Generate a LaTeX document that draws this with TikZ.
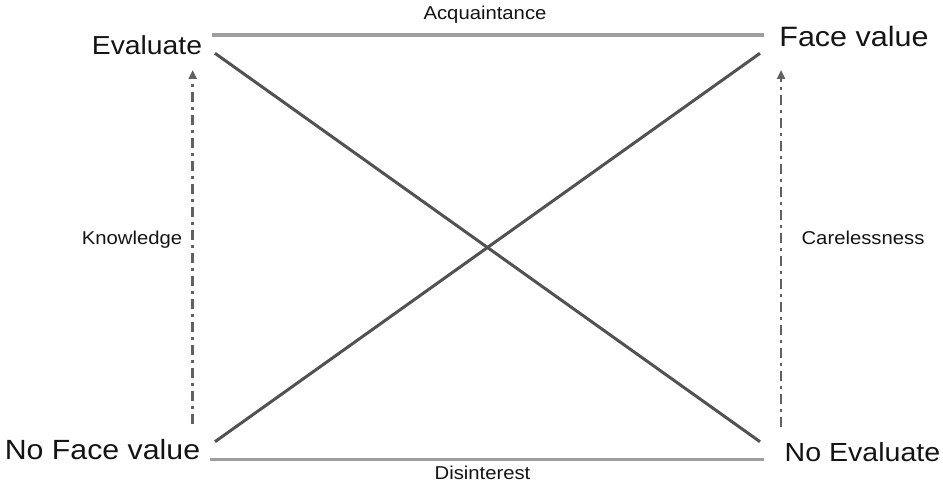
\documentclass[tikz,border=0pt]{standalone}
\usepackage{fontspec}
\setmainfont{Liberation Sans}[FakeStretch=1.09]
\usetikzlibrary{arrows.meta}
\tikzset{
  bigtxt/.style={inner sep=0pt, anchor=base, text=black!92},
  smalltxt/.style={inner sep=0pt, anchor=base, text=black!92, font=\fontsize{18.6}{22}\selectfont},
  hline/.style={draw=black!38, line width=3.6pt},
  cross/.style={draw=black!68, line width=3pt},
  updir/.style={draw=black!62, line width=2.8pt, dash pattern=on 10pt off 5pt on 3pt off 5pt,
    -{Triangle[width=8pt,length=9pt]}},
}
\begin{document}
\begin{tikzpicture}[x=1pt,y=1pt]
\useasboundingbox (0,0) rectangle (943,486);
% labels
\node[bigtxt, font=\fontsize{26}{30}\selectfont] (ev) at (147,431) {Evaluate};
\node[bigtxt, font=\fontsize{28}{32}\selectfont] (fv) at (854,439.5) {Face value};
\node[bigtxt, font=\fontsize{27.8}{32}\selectfont] (nfv) at (102.5,26.7) {No Face value};
\node[bigtxt, font=\fontsize{26.2}{30}\selectfont] (nev) at (862.5,24.3) {No Evaluate};
\node[smalltxt] (acq) at (485,466) {Acquaintance};
\node[smalltxt] (dis) at (482.5,6) {Disinterest};
\node[smalltxt] (kn) at (132,241.7) {Knowledge};
\node[smalltxt] (car) at (863,241) {Carelessness};
% endpoints
\coordinate (tl) at (211.5,451);
\coordinate (tr) at (763.5,451);
\coordinate (bl) at (210,26.5);
\coordinate (br) at (763.5,26.5);
\coordinate (d1s) at (215,432.7);
\coordinate (d1e) at (760,44.3);
\coordinate (d2s) at (215,44.3);
\coordinate (d2e) at (760,432.7);
\coordinate (la) at (192.7,62);
\coordinate (lb) at (192.7,416);
\coordinate (ra) at (781,59);
\coordinate (rb) at (781,416);
% lines
\draw[hline] (tl) -- (tr);
\draw[hline] (bl) -- (br);
\draw[cross] (d1s) -- (d1e);
\draw[cross] (d2s) -- (d2e);
\draw[updir] (la) -- (lb);
\draw[updir] (ra) -- (rb);
\end{tikzpicture}
\end{document}
